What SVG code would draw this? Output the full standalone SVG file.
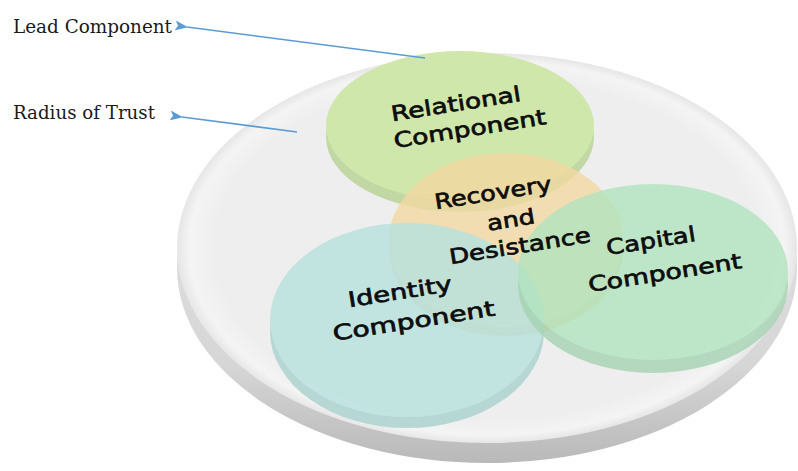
<svg xmlns="http://www.w3.org/2000/svg" width="798" height="471" viewBox="0 0 798 471">
<defs>
<marker id="ah" markerWidth="13" markerHeight="10" refX="1" refY="5" orient="auto" markerUnits="userSpaceOnUse">
<path d="M13,0 L0,5 L13,10 L10,5 Z" fill="#5b9bd5"/>
</marker>
<linearGradient id="gside" x1="0" y1="0" x2="0" y2="1">
<stop offset="0" stop-color="#e8e8e8"/>
<stop offset="0.75" stop-color="#d6d6d6"/>
<stop offset="1" stop-color="#b9b9b9"/>
</linearGradient>
<radialGradient id="gtop" cx="0.5" cy="0.5" r="0.5">
<stop offset="0.88" stop-color="#eeeeee"/>
<stop offset="0.96" stop-color="#f4f4f4"/>
<stop offset="1" stop-color="#e6e6e6"/>
</radialGradient>
</defs>
<style>
.lbl{font-family:"DejaVu Serif","Liberation Serif",serif;font-size:18px;fill:#1a1a1a}
.dt{font-family:"DejaVu Sans","Verdana",sans-serif;font-size:21px;fill:#0d0d0d;stroke:#0d0d0d;stroke-width:0.7;text-anchor:middle}
.arr{stroke:#5b9bd5;stroke-width:1.6;fill:none}
</style>
<rect width="798" height="471" fill="#ffffff"/>
<g id="radius-of-trust-disk">
<ellipse cx="487" cy="268" rx="310" ry="195" fill="url(#gside)"/>
<ellipse cx="487" cy="248" rx="310" ry="195" fill="url(#gtop)"/>
</g>
<g id="relational">
<ellipse cx="460" cy="137" rx="134" ry="75" fill="#c2d8a4"/>
<ellipse cx="460" cy="126" rx="134" ry="75" fill="#cfe7ab"/>
</g>
<g id="recovery" opacity="0.8">
<ellipse cx="506" cy="249" rx="117" ry="87" fill="#e6cd95"/>
<ellipse cx="506" cy="240" rx="117" ry="87" fill="#f2d9a2"/>
</g>
<g id="identity" opacity="0.82">
<ellipse cx="407" cy="331" rx="137" ry="97" fill="#abd2cf"/>
<ellipse cx="407" cy="320" rx="137" ry="97" fill="#b8e2df"/>
</g>
<g id="capital" opacity="0.8">
<ellipse cx="653" cy="285" rx="135" ry="88" fill="#a6d3b3"/>
<ellipse cx="653" cy="272" rx="135" ry="88" fill="#b1e4bf"/>
</g>
<g id="texts">
<text class="dt" transform="translate(457,111) rotate(-9)" textLength="131" lengthAdjust="spacingAndGlyphs">Relational</text>
<text class="dt" transform="translate(471,136) rotate(-9)" textLength="154" lengthAdjust="spacingAndGlyphs">Component</text>
<text class="dt" transform="translate(494,200) rotate(-9)" textLength="118" lengthAdjust="spacingAndGlyphs">Recovery</text>
<text class="dt" transform="translate(512,227) rotate(-9)" textLength="48" lengthAdjust="spacingAndGlyphs">and</text>
<text class="dt" transform="translate(521,253) rotate(-9)" textLength="143" lengthAdjust="spacingAndGlyphs">Desistance</text>
<text class="dt" transform="translate(652,248) rotate(-9)" textLength="90" lengthAdjust="spacingAndGlyphs">Capital</text>
<text class="dt" transform="translate(666,280) rotate(-9)" textLength="155" lengthAdjust="spacingAndGlyphs">Component</text>
<text class="dt" transform="translate(401,299) rotate(-9)" textLength="105" lengthAdjust="spacingAndGlyphs">Identity</text>
<text class="dt" transform="translate(415,328) rotate(-9)" textLength="164" lengthAdjust="spacingAndGlyphs">Component</text>
</g>
<g id="label-lead">
<text class="lbl" x="13" y="33" textLength="159" lengthAdjust="spacingAndGlyphs">Lead Component</text>
</g>
<g id="label-radius">
<text class="lbl" x="13" y="119" textLength="142" lengthAdjust="spacingAndGlyphs">Radius of Trust</text>
</g>
<g id="connectors">
<line class="arr" x1="425" y1="58" x2="187" y2="27" marker-end="url(#ah)"/>
<line class="arr" x1="297" y1="132" x2="182" y2="117" marker-end="url(#ah)"/>
</g>
</svg>
